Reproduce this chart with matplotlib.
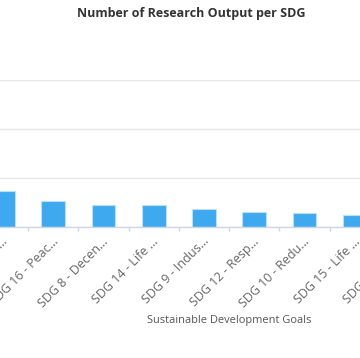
import matplotlib
matplotlib.use("Agg")
import matplotlib.pyplot as plt
import matplotlib.transforms as mtransforms

categories = [
    "SDG 3 - Good ...",
    "SDG 16 - Peac...",
    "SDG 8 - Decen...",
    "SDG 14 - Life ...",
    "SDG 9 - Indus...",
    "SDG 12 - Resp...",
    "SDG 10 - Redu...",
    "SDG 15 - Life ...",
    "SDG 11 - Sust...",
]
values = [370, 265, 225, 225, 185, 155, 140, 120, 110]
y_ticks = [0, 500, 1000, 1500]

title = "Number of Research Output per SDG"
x_title = "Sustainable Development Goals"

plt.rcParams['font.family'] = ['Open Sans', 'DejaVu Sans']

W, H = 360, 358
fig = plt.figure(figsize=(W / 100, H / 100), dpi=100)

# plot area in pixels (extends beyond the visible crop)
left_px, right_px = -25, 430
top_px, base_px = 80, 227
ax = fig.add_axes([left_px / W, (H - base_px) / H,
                   (right_px - left_px) / W, (base_px - top_px) / H])

cat_px0, cat_step = 3, 50.25
xs = list(range(len(categories)))
ax.set_xlim((left_px - cat_px0) / cat_step, (right_px - cat_px0) / cat_step)
ax.set_ylim(y_ticks[0], y_ticks[-1])

ax.bar(xs, values, width=0.47, color="#3ea9ee", edgecolor="#b8e0fa",
       linewidth=0.8, zorder=3)

ax.set_yticks(y_ticks)
ax.set_yticklabels([])
ax.tick_params(axis='y', length=0)
ax.grid(axis='y', color="#e6e6e6", linewidth=1, zorder=0)

for s in ['top', 'right', 'left']:
    ax.spines[s].set_visible(False)
ax.spines['bottom'].set_color("#ccd6eb")
ax.spines['bottom'].set_linewidth(1)
ax.spines['bottom'].set_zorder(4)

ax.set_xticks(xs)
ax.set_xticklabels(categories, rotation=45, ha='right', va='center',
                   rotation_mode='anchor', fontsize=9, color="#666666")
ax.tick_params(axis='x', which='major', length=0, pad=9)
ax.set_xticks([x + 0.5 for x in xs[:-1]] + [-0.5], minor=True)
ax.tick_params(axis='x', which='minor', length=3, color="#ccd6eb", width=1)

offset = mtransforms.ScaledTranslation(3 / 100, 0, fig.dpi_scale_trans)
for lab in ax.get_xticklabels():
    lab.set_transform(lab.get_transform() + offset)

fig.text(191.5 / W, 1 - 13 / H, title, ha='center', va='center',
         fontsize=9, fontweight='bold', color="#333333")
fig.text(229 / W, 1 - 320 / H, x_title, ha='center', va='center',
         fontsize=7.9, color="#555555")

fig.savefig("out.png", dpi=100)
